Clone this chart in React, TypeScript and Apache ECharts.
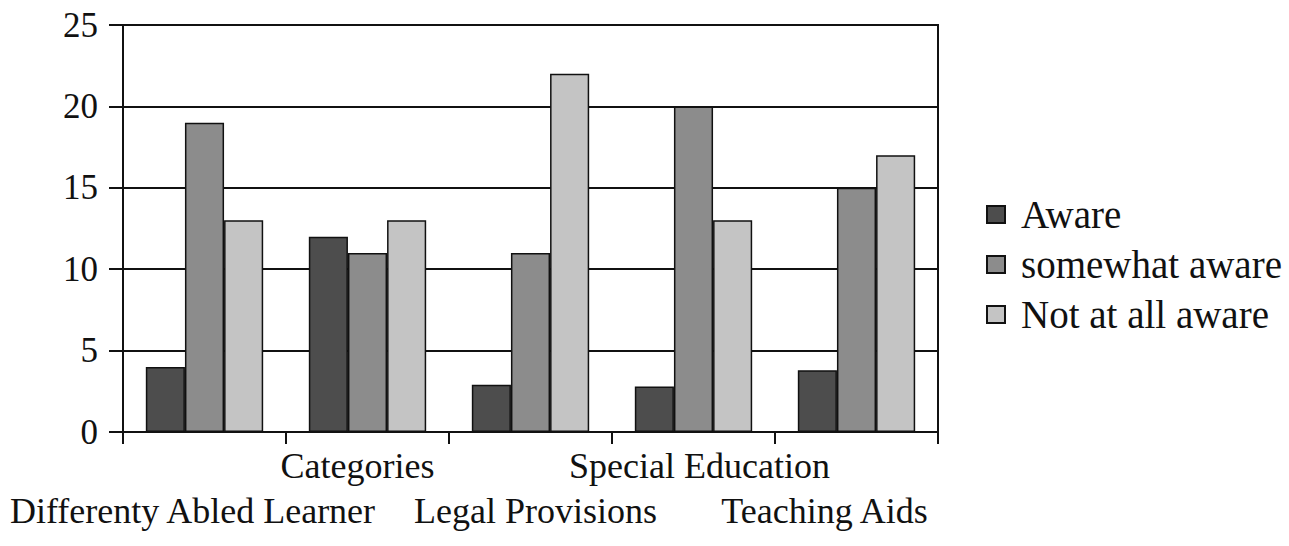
import React, { useEffect, useRef } from "react";
import * as echarts from "echarts";

const categories = [
  "Differenty Abled Learner",
  "Categories",
  "Legal Provisions",
  "Special Education",
  "Teaching Aids",
];
const seriesNames = ["Aware", "somewhat aware", "Not at all aware"];
const aware = [4, 12, 2.9, 2.8, 3.8];
const somewhatAware = [19, 11, 11, 20, 15];
const notAtAllAware = [13, 13, 22, 13, 17];
const seriesColors = ["#4d4d4d", "#8c8c8c", "#c4c4c4"];

const FONT = "Liberation Serif";
const labelStyleKeys = ["d", "a", "e", "s", "t"];

export default function App() {
  const ref = useRef<HTMLDivElement>(null);
  useEffect(() => {
    if (!ref.current) return;
    const chart = echarts.init(ref.current, undefined, { renderer: "svg" });
    const values = [aware, somewhatAware, notAtAllAware];
    const base = { fontFamily: FONT, fontSize: 36, color: "#111", lineHeight: 40 };
    chart.setOption({
      animation: false,
      backgroundColor: "#ffffff",
      textStyle: { fontFamily: FONT, color: "#111" },
      grid: {
        left: 123,
        right: 351,
        top: 25,
        bottom: 114,
        show: true,
        borderColor: "#111",
        borderWidth: 2,
        containLabel: false,
      },
      legend: {
        orient: "vertical",
        left: 981,
        top: 190,
        itemWidth: 18,
        itemHeight: 17,
        itemGap: 11,
        icon: "rect",
        textStyle: { fontFamily: FONT, fontSize: 39, color: "#111", padding: [0, 0, 0, 11] },
        data: seriesNames,
      },
      xAxis: {
        type: "category",
        data: categories,
        axisLine: { show: true, lineStyle: { color: "#111", width: 2 } },
        axisTick: { show: true, length: 12, lineStyle: { color: "#111", width: 2 }, alignWithLabel: false },
        axisLabel: {
          interval: 0,
          hideOverlap: false,
          margin: 14,
          color: "#111",
          fontFamily: FONT,
          formatter: (v: string, i: number) => `{${labelStyleKeys[i]}|${v}}`,
          rich: {
            a: { ...base, padding: [0, 20, 0, 0] },
            s: { ...base, padding: [0, 0, 0, 12] },
            d: { ...base, padding: [90, 24, 0, 0] },
            e: { ...base, padding: [90, 0, 0, 10] },
            t: { ...base, padding: [90, 64, 0, 0] },
          },
        },
      },
      yAxis: {
        type: "value",
        min: 0,
        max: 25,
        interval: 5,
        axisLine: { show: true, lineStyle: { color: "#111", width: 2 } },
        axisTick: { show: true, length: 14, lineStyle: { color: "#111", width: 2 } },
        axisLabel: { fontFamily: FONT, fontSize: 35, color: "#111", margin: 25 },
        splitLine: { show: true, lineStyle: { color: "#111", width: 2 } },
      },
      series: seriesNames.map((name, idx) => ({
        name,
        type: "bar",
        data: values[idx],
        barGap: "0%",
        barCategoryGap: "28%",
        itemStyle: { color: seriesColors[idx], borderColor: "#111", borderWidth: 1.5 },
      })),
    });
    return () => chart.dispose();
  }, []);
  return (
    <div
      ref={ref}
      style={{ position: "fixed", left: 0, top: 0, width: 1289, height: 546 }}
    />
  );
}
